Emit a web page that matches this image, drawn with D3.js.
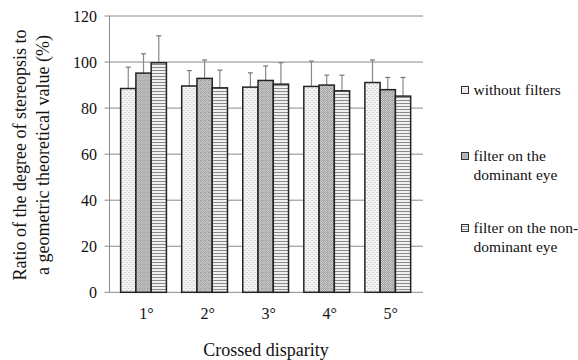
<!DOCTYPE html>
<html>
<head>
<meta charset="utf-8">
<script src="https://cdn.jsdelivr.net/npm/d3@7"></script>
<style>
  body { margin: 0; background: #fff; }
  svg text, svg tspan { font-family: "Liberation Serif", "Times New Roman", serif; fill: #111; }
</style>
</head>
<body>
<svg id="chart" width="578" height="360" font-family="Liberation Serif"></svg>
<script>
const categories = ["1°", "2°", "3°", "4°", "5°"];
const seriesNames = ["without filters", "filter on the dominant eye", "filter on the non-dominant eye"];
const legendLines = [["without filters"], ["filter on the", "dominant eye"], ["filter on the non-", "dominant eye"]];
const withoutFilters = [88.5, 89.6, 89.1, 89.4, 91.1];
const dominantEye = [95.2, 92.9, 92.0, 90.0, 88.0];
const nonDominantEye = [99.7, 88.8, 90.4, 87.5, 85.2];
const withoutFiltersErr = [9.3, 6.7, 6.2, 11.0, 9.8];
const dominantEyeErr = [8.4, 8.0, 6.3, 4.3, 5.3];
const nonDominantEyeErr = [11.7, 7.7, 9.3, 6.8, 8.1];
const yTicks = [0, 20, 40, 60, 80, 100, 120];

const values = [withoutFilters, dominantEye, nonDominantEye];
const errors = [withoutFiltersErr, dominantEyeErr, nonDominantEyeErr];
const patternIds = ["pat-none", "pat-dom", "pat-nondom"];

const svg = d3.select("#chart");
const dims = { left: 109.5, right: 423, top: 16, bottom: 292.3 };

// patterns
const defs = svg.append("defs");
const p1 = defs.append("pattern").attr("id", "pat-none")
  .attr("patternUnits", "userSpaceOnUse").attr("width", 4).attr("height", 4);
p1.append("rect").attr("width", 4).attr("height", 4).attr("fill", "#f4f4f4");
[[0, 0], [2, 2], [0, 2], [2, 0]].forEach(([x, y], i) =>
  p1.append("rect").attr("x", x + (i > 1 ? 1 : 0)).attr("y", y).attr("width", 1).attr("height", 1)
    .attr("fill", i > 1 ? "#dedede" : "#c4c4c4"));

const p2 = defs.append("pattern").attr("id", "pat-dom")
  .attr("patternUnits", "userSpaceOnUse").attr("width", 4).attr("height", 4);
p2.append("rect").attr("width", 4).attr("height", 4).attr("fill", "#d6d6d6");
[[0, 0], [2, 0], [1, 1], [3, 1], [0, 2], [2, 2], [1, 3], [3, 3]].forEach(([x, y]) =>
  p2.append("rect").attr("x", x).attr("y", y).attr("width", 1).attr("height", 1).attr("fill", "#9a9a9a"));
p2.append("rect").attr("x", 3).attr("y", 0).attr("width", 1).attr("height", 1).attr("fill", "#b0b0b0");

const p3 = defs.append("pattern").attr("id", "pat-nondom")
  .attr("patternUnits", "userSpaceOnUse").attr("width", 4).attr("height", 3);
p3.append("rect").attr("width", 4).attr("height", 3).attr("fill", "#f0f0f0");
p3.append("rect").attr("y", 1).attr("width", 4).attr("height", 1).attr("fill", "#8a8a8a");

// scales
const y = d3.scaleLinear().domain([0, 120]).range([dims.bottom, dims.top]);
const x0 = d3.scaleBand().domain(categories).range([113, 418.3])
  .paddingInner(0.25).paddingOuter(0.125);
const x1 = d3.scaleBand().domain(d3.range(3)).range([0, x0.bandwidth()]);

// gridlines + ticks
svg.append("g").selectAll("line").data(yTicks).join("line")
  .attr("x1", dims.left - 5).attr("x2", dims.right)
  .attr("y1", (d) => y(d)).attr("y2", (d) => y(d))
  .attr("stroke", "#8a8a8a").attr("stroke-width", 1);

svg.append("line")
  .attr("x1", dims.left).attr("x2", dims.left)
  .attr("y1", y(120)).attr("y2", y(0))
  .attr("stroke", "#8a8a8a").attr("stroke-width", 1);

svg.append("g").selectAll("text").data(yTicks).join("text")
  .attr("x", 97).attr("y", (d) => y(d)).attr("dy", "0.35em")
  .attr("text-anchor", "end").attr("font-size", 16)
  .text((d) => d);

// bars
const groups = svg.append("g").selectAll("g").data(categories).join("g")
  .attr("transform", (d) => `translate(${x0(d)},0)`);

groups.each(function (c, ci) {
  const g = d3.select(this);
  d3.range(3).forEach((s) => {
    const v = values[s][ci];
    const e = errors[s][ci];
    const cx = x1(s) + x1.bandwidth() / 2;
    g.append("line")
      .attr("x1", cx).attr("x2", cx)
      .attr("y1", y(v)).attr("y2", y(v + e))
      .attr("stroke", "#888").attr("stroke-width", 1.2);
    g.append("line")
      .attr("x1", cx - 2.5).attr("x2", cx + 2.5)
      .attr("y1", y(v + e)).attr("y2", y(v + e))
      .attr("stroke", "#777").attr("stroke-width", 1.2);
    g.append("rect")
      .attr("x", x1(s)).attr("y", y(v))
      .attr("width", x1.bandwidth()).attr("height", y(0) - y(v))
      .attr("fill", `url(#${patternIds[s]})`)
      .attr("stroke", "#222").attr("stroke-width", 1.5);
  });
});

// x tick labels
svg.append("g").selectAll("text").data(categories).join("text")
  .attr("x", (d) => x0(d) + x0.bandwidth() / 2 + 3)
  .attr("y", 319).attr("text-anchor", "middle").attr("font-size", 16)
  .text((d) => d);

// axis titles
svg.append("text")
  .attr("x", 266).attr("y", 356).attr("text-anchor", "middle").attr("font-size", 18)
  .text("Crossed disparity");

const yTitle = svg.append("text")
  .attr("transform", "translate(0,155) rotate(-90)")
  .attr("text-anchor", "middle").attr("font-size", 18);
yTitle.append("tspan").attr("x", 0).attr("y", 26).text("Ratio of the degree of stereopsis to");
yTitle.append("tspan").attr("x", 0).attr("y", 49).text("a geometric theoretical value (%)");

// legend
const legendY = [90, 156, 228];
const legend = svg.append("g").selectAll("g").data(seriesNames).join("g")
  .attr("transform", (d, i) => `translate(461.5,${legendY[i]})`);
legend.append("rect")
  .attr("x", 0).attr("y", -3.5).attr("width", 7).attr("height", 7)
  .attr("fill", (d, i) => `url(#${patternIds[i]})`)
  .attr("stroke", "#333").attr("stroke-width", 1);
legend.append("text")
  .attr("x", 12).attr("font-size", 15.5)
  .selectAll("tspan").data((d, i) => legendLines[i]).join("tspan")
  .attr("x", 12).attr("y", (d, j) => j * 19).attr("dy", "0.35em")
  .text((d) => d);
</script>
</body>
</html>
